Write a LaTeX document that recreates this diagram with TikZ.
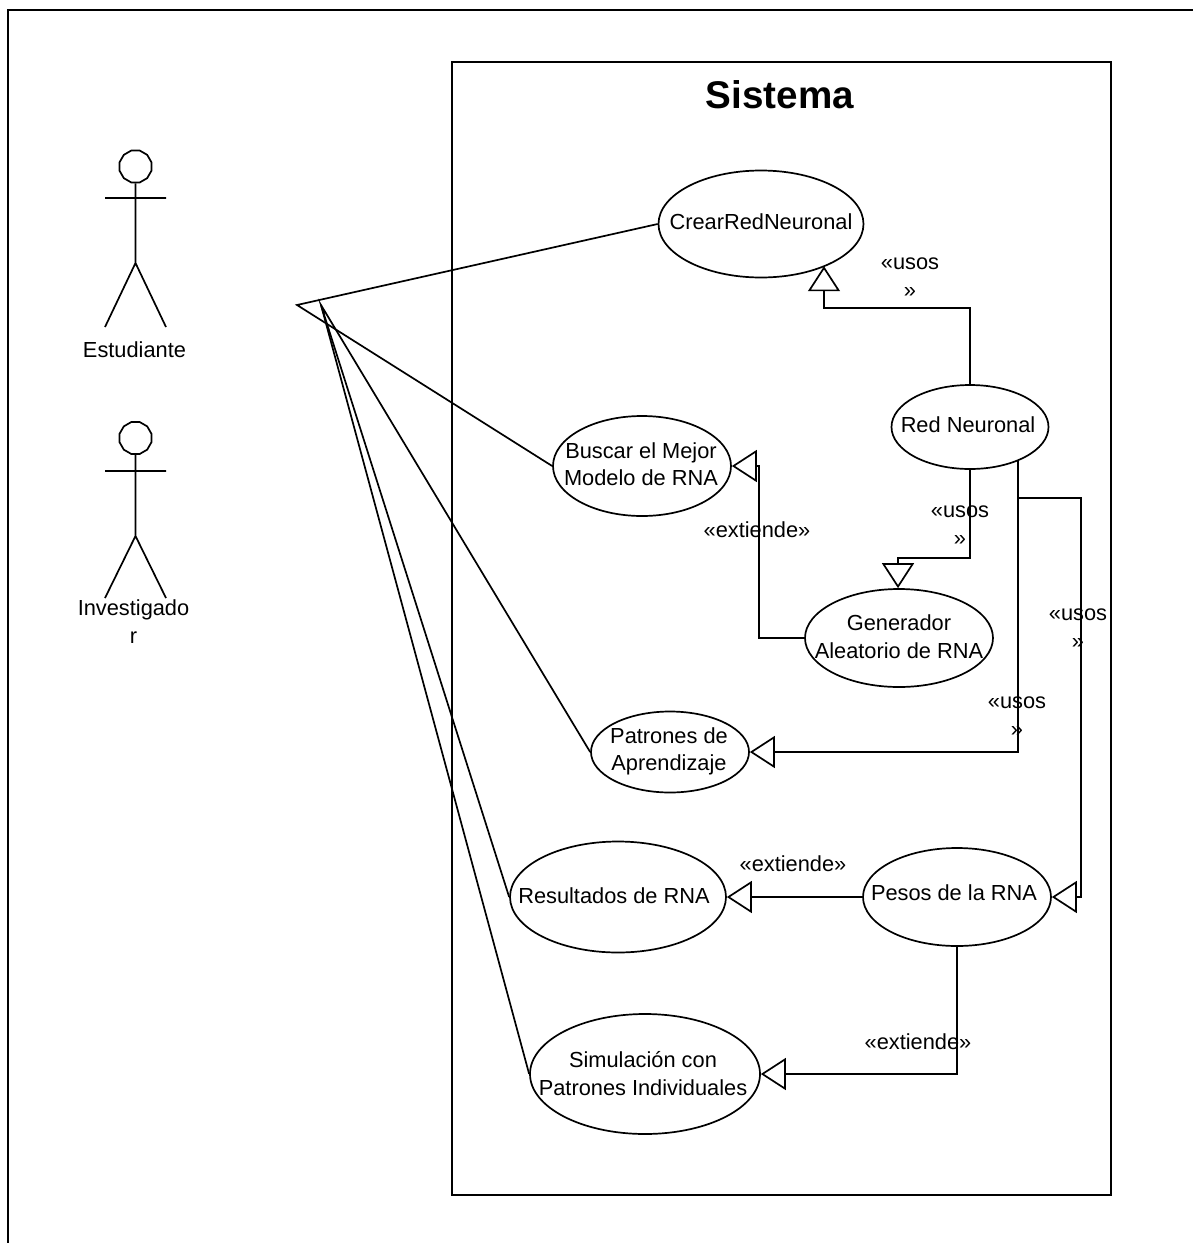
\documentclass[tikz,border=0pt]{standalone}
\usepackage{fontspec}
\setmainfont{Liberation Sans}
\usetikzlibrary{arrows.meta,shapes.geometric}
\tikzset{
  usecase/.style={draw,ellipse,fill=white,inner sep=0pt,line width=1.7pt},
  uctext/.style={inner sep=0pt,align=center,font=\fontsize{21.8}{27.5}\selectfont},
  lbl/.style={inner sep=0pt,align=center,font=\fontsize{21.8}{28}\selectfont},
  ln/.style={line width=1.7pt},
  head/.style={draw,regular polygon,regular polygon sides=12,line width=1.7pt,minimum size=33pt,inner sep=0pt},
  gen/.style={line width=1.7pt,-{Triangle[open,length=25pt,width=32pt,line width=1.7pt]}}
}
\begin{document}
\begin{tikzpicture}[x=1pt,y=-1pt]
\useasboundingbox (0,0) rectangle (1193,1243);
\fill[white] (0,0) rectangle (1193,1243);
% outer frame
\draw[ln] (8,1243) -- (8,10) -- (1193,10);
% system boundary
\draw[ln] (452,62) rectangle (1111,1195);
\node[inner sep=0pt,font=\fontsize{38.6}{46}\selectfont\bfseries] (titulo) at (780,95) {Sistema};
% actors
\node[head] (head1) at (135.5,166.5) {};
\coordinate (hip1) at (135.5,263);
\coordinate (arml1) at (105,198);
\coordinate (armr1) at (166,198);
\coordinate (footl1) at (105,327);
\coordinate (footr1) at (166,327);
\draw[ln] (head1.south) -- (hip1) (arml1) -- (armr1) (footl1) -- (hip1) -- (footr1);
\node[lbl] (est) at (134.5,350) {Estudiante};
\node[head] (head2) at (135.5,438) {};
\coordinate (hip2) at (135.5,536);
\coordinate (arml2) at (105,471);
\coordinate (armr2) at (166,471);
\coordinate (footl2) at (105,598);
\coordinate (footr2) at (166,598);
\draw[ln] (head2.south) -- (hip2) (arml2) -- (armr2) (footl2) -- (hip2) -- (footr2);
\node[lbl,anchor=center] (inv) at (133.5,622) {Investigado\\r};
% use cases
\node[usecase,minimum width=205pt,minimum height=107pt] (crear) at (761,224) {};
\node[usecase,minimum width=157pt,minimum height=84pt] (red) at (970,427) {};
\node[usecase,minimum width=178pt,minimum height=100pt] (buscar) at (642,466) {};
\node[usecase,minimum width=188pt,minimum height=98pt] (genr) at (899,638) {};
\node[usecase,minimum width=158pt,minimum height=81pt] (patr) at (670,752) {};
\node[usecase,minimum width=216pt,minimum height=111pt] (resu) at (618,897) {};
\node[usecase,minimum width=188pt,minimum height=98pt] (peso) at (957,897) {};
\node[usecase,minimum width=230pt,minimum height=120pt] (simu) at (645,1074) {};
\node[uctext] (crearT) at (761,222) {CrearRedNeuronal};
\node[uctext] (redT) at (968,425) {Red Neuronal};
\node[uctext] (buscarT) at (641,464) {Buscar el Mejor\\Modelo de RNA};
\node[uctext] (genrT) at (899,636.5) {Generador\\Aleatorio de RNA};
\node[uctext] (patrT) at (669,751.5) {Patrones de\\Aprendizaje};
\node[uctext] (resuT) at (614,896) {Resultados de RNA};
\node[uctext] (pesoT) at (954,893) {Pesos de la RNA};
\node[uctext] (simuT) at (643,1073.5) {Simulación con\\Patrones Individuales};
% actor associations
\coordinate (a1) at (297,305);
\coordinate (a2) at (321,305);
\draw[ln] (crear.west) -- (a1) -- (buscar.west);
\draw[ln] (patr.west) -- (a2) -- (resu.west);
\draw[ln] (a2) -- (simu.west);
% generalisations
\coordinate (j1) at (824,308);
\draw[gen] (red.north) |- (j1) -- (crear.-33.7 -| j1);
\coordinate (j2) at (898,558);
\draw[gen] (red.south) |- (j2) -- (genr.north -| j2);
\coordinate (j3) at (759,466);
\draw[gen] (genr.west) -| (j3) -- (buscar.east);
\coordinate (j4) at (1018,498);
\coordinate (j5) at (1081,498);
\draw[gen] (j4 |- red.-35.5) |- (patr.east);
\draw[gen] (j4) -- (j5) |- (peso.east);
\draw[gen] (peso.west) -- (resu.east);
\draw[gen] (peso.south) |- (simu.east);
% labels
\node[lbl] (u1) at (910,277.5) {«usos\\»};
\node[lbl] (u2) at (960,526) {«usos\\»};
\node[lbl] (u3) at (1078,629) {«usos\\»};
\node[lbl] (u4) at (1017,716.5) {«usos\\»};
\node[lbl] (e1) at (757,530) {«extiende»};
\node[lbl] (e2) at (793,864) {«extiende»};
\node[lbl] (e3) at (918,1042) {«extiende»};
\end{tikzpicture}
\end{document}
